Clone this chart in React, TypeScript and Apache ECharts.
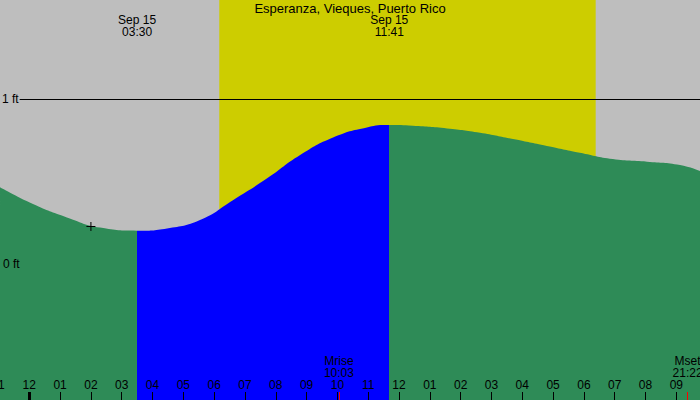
import React, { useEffect, useRef } from "react";
import * as echarts from "echarts";

const stationName = "Esperanza, Vieques, Puerto Rico";

// tide curve (hours from midnight Sep 15, height in ft)
const tideHours = [-0.95, 0.12, 1.22, 2.3, 3.5, 4.47, 5.54, 6.61, 7.72, 8.79, 9.86, 10.96, 11.68, 12.45, 13.56, 14.63, 15.7, 16.8, 17.87, 18.94, 20.05, 21.12, 21.77];
const tideFeet = [0.464, 0.362, 0.281, 0.219, 0.2, 0.214, 0.265, 0.386, 0.519, 0.661, 0.768, 0.829, 0.843, 0.839, 0.823, 0.797, 0.758, 0.716, 0.675, 0.636, 0.62, 0.6, 0.563];

const tideEventDates = ["Sep 15", "Sep 15"];
const tideEventTimes = ["03:30", "11:41"];
const moonEventNames = ["Mrise", "Mset"];
const moonEventTimes = ["10:03", "21:22"];
const sunTimes = ["06:10", "18:23"];
const hourTicks = [-1, 0, 1, 2, 3, 4, 5, 6, 7, 8, 9, 10, 11, 12, 13, 14, 15, 16, 17, 18, 19, 20, 21];
const midnightTicks = [0];
const depthTicks = [0, 1];
const markerHour = 2.0;
const markerFeet = 0.225;
const xRange = [-1.957, 21.769];
const yRange = [-0.831, 1.605];

const GRAY = "#BEBEBE";
const DAY = "#CDCD00";
const EBB = "#2E8B57";
const FLOOD = "#0000FF";
const FONT = "Liberation Sans";

const toHour = (t: string) => {
  const [h, m] = t.split(":").map(Number);
  return h + m / 60;
};
const pad = (n: number) => (n < 10 ? "0" + n : "" + n);
const hourLabel = (v: number) => {
  const h = (((Math.round(v) % 24) + 24) % 24) % 12;
  return pad(h === 0 ? 12 : h);
};

export default function App() {
  const ref = useRef<HTMLDivElement>(null);
  useEffect(() => {
    if (!ref.current) return;
    const chart = echarts.init(ref.current, null, { renderer: "svg" });
    const tideData = tideHours.map((h, i) => [h, tideFeet[i]]);
    const tideEventHours = tideEventTimes.map(toHour);
    const moonHours = moonEventTimes.map(toHour);
    const lowHour = tideEventHours[0];
    const highHour = tideEventHours[1];
    const textBase = { color: "#000", fontFamily: FONT, fontSize: 12, lineHeight: 12 };
    const baseX = {
      type: "value" as const,
      min: xRange[0],
      max: xRange[1],
      z: 10,
      axisLine: { show: false, onZero: false },
      splitLine: { show: false },
    };
    const nearest = (arr: number[], v: number) => {
      let best = 0;
      arr.forEach((m, i) => {
        if (Math.abs(m - v) < Math.abs(arr[best] - v)) best = i;
      });
      return best;
    };
    chart.setOption({
      animation: false,
      backgroundColor: GRAY,
      title: {
        text: stationName,
        left: "center",
        top: 1,
        padding: 0,
        z: 10,
        textStyle: { ...textBase, fontSize: 13, fontWeight: "normal", lineHeight: 14 },
      },
      grid: { left: -31, right: 0, top: 0, bottom: 0, outerBoundsMode: "none", containLabel: false },
      xAxis: [
        {
          ...baseX,
          position: "bottom",
          axisTick: { show: true, inside: true, length: 8, customValues: hourTicks.filter((h) => h >= 0), lineStyle: { color: "#000", width: 1 } },
          axisLabel: {
            show: true,
            inside: true,
            margin: 9,
            customValues: hourTicks,
            formatter: (v: number) => hourLabel(v),
            ...textBase,
          },
        },
        {
          ...baseX,
          position: "bottom",
          axisTick: { show: true, inside: true, length: 8, customValues: midnightTicks, lineStyle: { color: "#000", width: 3 } },
          axisLabel: { show: false },
        },
        {
          ...baseX,
          position: "bottom",
          axisTick: { show: true, inside: true, length: 8, customValues: moonHours, lineStyle: { color: "#FF0000", width: 1 } },
          axisLabel: {
            show: true,
            inside: true,
            margin: 21,
            customValues: moonHours,
            formatter: (v: number) => {
              const i = nearest(moonHours, v);
              return moonEventNames[i] + "\n" + moonEventTimes[i];
            },
            ...textBase,
          },
        },
        {
          ...baseX,
          position: "top",
          axisTick: { show: false },
          axisLabel: {
            show: true,
            inside: true,
            margin: 14,
            customValues: tideEventHours,
            formatter: (v: number) => {
              const i = nearest(tideEventHours, v);
              return tideEventDates[i] + "\n" + tideEventTimes[i];
            },
            ...textBase,
          },
        },
      ],
      yAxis: {
        type: "value",
        min: yRange[0],
        max: yRange[1],
        position: "left",
        offset: -31,
        z: 10,
        axisLine: { show: false, onZero: false },
        axisTick: { show: false },
        splitLine: { show: false },
        axisLabel: {
          show: true,
          inside: true,
          margin: 0,
          customValues: depthTicks,
          formatter: (v: number) => (v === 1 ? "{bg|" + v + " ft}" : "{plain|" + v + " ft}"),
          rich: {
            bg: { ...textBase, backgroundColor: GRAY, padding: [0, 1, 0, 2] },
            plain: { ...textBase, padding: [0, 0, 0, 3] },
          },
        },
      },
      visualMap: {
        type: "piecewise",
        show: false,
        seriesIndex: 1,
        dimension: 0,
        pieces: [
          { lt: lowHour, color: EBB },
          { gte: lowHour, lt: highHour, color: FLOOD },
          { gte: highHour, color: EBB },
        ],
      },
      series: [
        {
          type: "line",
          z: 1,
          data: [],
          silent: true,
          markArea: {
            silent: true,
            itemStyle: { color: DAY, opacity: 1 },
            data: [[{ xAxis: toHour(sunTimes[0]) }, { xAxis: toHour(sunTimes[1]) }]],
          },
        },
        {
          type: "line",
          z: 3,
          data: tideData,
          smooth: 0.5,
          showSymbol: false,
          symbol: "none",
          silent: true,
          lineStyle: { width: 0 },
          areaStyle: { opacity: 1, origin: "start" },
          markLine: {
            silent: true,
            symbol: ["none", "none"],
            label: { show: false },
            lineStyle: { color: "#000", width: 1, type: "solid" },
            data: [[{ coord: [xRange[0], 1] }, { coord: [xRange[1], 1] }]],
          },
          markPoint: {
            silent: true,
            symbol: "path://M0,4h9v1h-9z M4,0h1v9h-1z",
            symbolSize: 9,
            itemStyle: { color: "#000" },
            label: { show: false },
            data: [{ coord: [markerHour, markerFeet] }],
          },
        },
      ],
    });
    return () => chart.dispose();
  }, []);
  return <div ref={ref} style={{ position: "fixed", left: 0, top: 0, width: 700, height: 400 }} />;
}
